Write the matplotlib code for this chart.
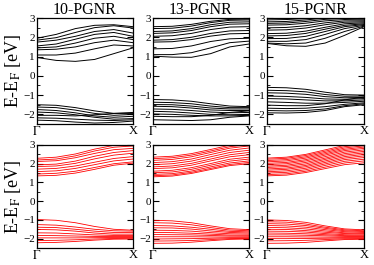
import matplotlib
matplotlib.use('Agg')
import matplotlib.pyplot as plt
from matplotlib.ticker import MultipleLocator

plt.rcParams['font.family'] = ['Liberation Serif', 'DejaVu Serif']
plt.rcParams['mathtext.fontset'] = 'stix'

# k-points along Gamma -> X (fraction of the path)
kpts = [0.0, 0.2, 0.4, 0.6, 0.8, 1.0]

titles = ['10-PGNR', '13-PGNR', '15-PGNR']
xtick_labels = [r'$\Gamma$', 'X']

# top row (black)
bands_10_a = [
    [1.95, 2.15, 2.45, 2.62, 2.65, 2.55],
    [1.85, 1.98, 2.25, 2.50, 2.60, 2.48],
    [1.75, 1.85, 2.05, 2.30, 2.40, 2.22],
    [1.55, 1.65, 1.90, 2.15, 2.25, 2.05],
    [1.45, 1.50, 1.70, 1.95, 2.05, 1.88],
    [1.35, 1.38, 1.50, 1.72, 1.85, 1.72],
    [1.08, 1.08, 1.18, 1.40, 1.60, 1.55],
    [0.95, 0.80, 0.75, 0.85, 1.15, 1.45],
    [-1.50, -1.53, -1.65, -1.82, -1.95, -1.95],
    [-1.62, -1.65, -1.78, -1.95, -2.05, -2.00],
    [-1.75, -1.80, -1.92, -2.08, -2.15, -2.10],
    [-1.88, -1.92, -2.02, -2.15, -2.25, -2.22],
    [-2.05, -2.05, -2.08, -2.02, -1.95, -1.90],
    [-2.18, -2.20, -2.25, -2.30, -2.32, -2.28],
    [-2.30, -2.33, -2.40, -2.45, -2.42, -2.35],
]

bands_13_a = [
    [2.55, 2.57, 2.67, 2.83, 2.93, 2.95],
    [2.45, 2.47, 2.58, 2.76, 2.88, 2.90],
    [2.30, 2.33, 2.45, 2.65, 2.78, 2.80],
    [2.20, 2.23, 2.35, 2.55, 2.68, 2.70],
    [2.05, 2.08, 2.20, 2.40, 2.53, 2.55],
    [1.85, 1.88, 2.00, 2.20, 2.33, 2.35],
    [1.75, 1.77, 1.88, 2.06, 2.18, 2.20],
    [1.40, 1.42, 1.55, 1.78, 1.92, 1.95],
    [1.10, 1.10, 1.20, 1.45, 1.72, 1.80],
    [1.02, 0.97, 0.96, 1.15, 1.50, 1.65],
    [-1.23, -1.25, -1.32, -1.45, -1.57, -1.60],
    [-1.37, -1.39, -1.45, -1.57, -1.65, -1.65],
    [-1.49, -1.50, -1.57, -1.67, -1.72, -1.72],
    [-1.58, -1.60, -1.67, -1.77, -1.80, -1.80],
    [-1.72, -1.74, -1.80, -1.88, -1.92, -1.90],
    [-1.84, -1.87, -1.93, -2.00, -2.02, -2.00],
    [-1.98, -2.00, -2.05, -2.08, -2.08, -2.05],
    [-2.10, -2.12, -2.12, -2.05, -1.90, -1.82],
    [-2.28, -2.30, -2.32, -2.28, -2.15, -2.08],
]

bands_15_a = [
    [2.90, 2.92, 2.97, 3.05, 3.10, 3.10],
    [2.80, 2.82, 2.90, 3.00, 3.05, 3.00],
    [2.72, 2.74, 2.82, 2.93, 2.98, 2.95],
    [2.63, 2.65, 2.73, 2.85, 2.92, 2.90],
    [2.49, 2.51, 2.60, 2.75, 2.85, 2.85],
    [2.37, 2.39, 2.48, 2.65, 2.78, 2.80],
    [2.19, 2.21, 2.32, 2.52, 2.70, 2.75],
    [2.07, 2.09, 2.20, 2.42, 2.62, 2.70],
    [1.93, 1.94, 2.05, 2.30, 2.55, 2.66],
    [1.79, 1.79, 1.88, 2.15, 2.45, 2.62],
    [1.70, 1.66, 1.70, 1.95, 2.30, 2.58],
    [1.68, 1.56, 1.53, 1.70, 2.10, 2.55],
    [-0.60, -0.62, -0.70, -0.85, -0.98, -1.00],
    [-0.75, -0.77, -0.83, -0.97, -1.06, -1.05],
    [-0.88, -0.90, -0.96, -1.08, -1.14, -1.12],
    [-1.05, -1.07, -1.12, -1.20, -1.22, -1.18],
    [-1.18, -1.20, -1.25, -1.30, -1.30, -1.25],
    [-1.35, -1.38, -1.42, -1.42, -1.38, -1.32],
    [-1.52, -1.55, -1.55, -1.45, -1.25, -1.10],
    [-1.68, -1.70, -1.68, -1.60, -1.48, -1.40],
    [-1.80, -1.82, -1.80, -1.72, -1.55, -1.45],
    [-1.92, -1.93, -1.90, -1.80, -1.60, -1.50],
]

# bottom row (red)
bands_10_b = [
    [2.29, 2.35, 2.52, 2.78, 2.98, 3.05],
    [2.20, 2.25, 2.42, 2.68, 2.88, 2.95],
    [2.12, 2.16, 2.32, 2.55, 2.75, 2.82],
    [1.94, 1.98, 2.14, 2.40, 2.60, 2.70],
    [1.85, 1.88, 2.02, 2.26, 2.46, 2.56],
    [1.71, 1.75, 1.88, 2.08, 2.28, 2.38],
    [1.58, 1.62, 1.75, 1.95, 2.15, 2.25],
    [1.45, 1.49, 1.60, 1.80, 2.00, 2.10],
    [1.35, 1.38, 1.50, 1.70, 1.92, 2.03],
    [-0.98, -1.02, -1.15, -1.35, -1.50, -1.55],
    [-1.25, -1.28, -1.38, -1.50, -1.58, -1.60],
    [-1.39, -1.41, -1.50, -1.60, -1.67, -1.68],
    [-1.51, -1.53, -1.60, -1.70, -1.76, -1.76],
    [-1.69, -1.70, -1.75, -1.80, -1.83, -1.83],
    [-1.83, -1.84, -1.86, -1.88, -1.89, -1.89],
    [-1.96, -1.96, -1.96, -1.95, -1.94, -1.94],
    [-2.10, -2.09, -2.06, -2.02, -1.99, -1.98],
    [-2.22, -2.20, -2.15, -2.08, -2.03, -2.02],
]

bands_13_b = [
    [2.35, 2.40, 2.54, 2.76, 2.99, 3.10],
    [2.27, 2.32, 2.46, 2.68, 2.91, 3.02],
    [2.18, 2.23, 2.37, 2.60, 2.83, 2.95],
    [2.06, 2.11, 2.25, 2.49, 2.72, 2.84],
    [1.95, 2.00, 2.14, 2.37, 2.60, 2.72],
    [1.83, 1.88, 2.02, 2.25, 2.48, 2.60],
    [1.74, 1.78, 1.92, 2.15, 2.37, 2.48],
    [1.60, 1.65, 1.79, 2.01, 2.24, 2.35],
    [1.52, 1.56, 1.70, 1.92, 2.14, 2.25],
    [1.43, 1.47, 1.61, 1.83, 2.04, 2.15],
    [1.36, 1.40, 1.54, 1.75, 1.96, 2.07],
    [1.30, 1.34, 1.48, 1.69, 1.90, 2.00],
    [-1.02, -1.05, -1.15, -1.32, -1.47, -1.52],
    [-1.15, -1.17, -1.26, -1.41, -1.54, -1.58],
    [-1.30, -1.32, -1.39, -1.50, -1.61, -1.64],
    [-1.42, -1.43, -1.49, -1.59, -1.67, -1.70],
    [-1.55, -1.56, -1.60, -1.68, -1.74, -1.76],
    [-1.67, -1.68, -1.71, -1.76, -1.81, -1.82],
    [-1.78, -1.79, -1.80, -1.83, -1.86, -1.87],
    [-1.90, -1.90, -1.90, -1.91, -1.92, -1.92],
    [-2.02, -2.01, -2.00, -1.98, -1.96, -1.96],
    [-2.13, -2.12, -2.10, -2.05, -2.00, -1.99],
    [-2.25, -2.24, -2.19, -2.11, -2.04, -2.02],
]

bands_15_b = [
    [2.30, 2.35, 2.50, 2.74, 2.98, 3.10],
    [2.24, 2.29, 2.44, 2.67, 2.91, 3.03],
    [2.17, 2.22, 2.37, 2.60, 2.84, 2.96],
    [2.10, 2.15, 2.30, 2.53, 2.77, 2.89],
    [2.02, 2.07, 2.22, 2.46, 2.70, 2.82],
    [1.95, 2.00, 2.15, 2.38, 2.62, 2.74],
    [1.87, 1.92, 2.07, 2.30, 2.54, 2.66],
    [1.80, 1.85, 1.99, 2.23, 2.46, 2.58],
    [1.72, 1.77, 1.91, 2.15, 2.38, 2.50],
    [1.65, 1.70, 1.84, 2.07, 2.30, 2.42],
    [1.57, 1.62, 1.76, 1.99, 2.22, 2.33],
    [1.50, 1.54, 1.68, 1.91, 2.13, 2.24],
    [1.42, 1.46, 1.60, 1.82, 2.04, 2.15],
    [1.35, 1.39, 1.53, 1.74, 1.95, 2.05],
    [-1.00, -1.03, -1.13, -1.32, -1.48, -1.53],
    [-1.10, -1.12, -1.22, -1.39, -1.53, -1.58],
    [-1.20, -1.22, -1.30, -1.45, -1.58, -1.62],
    [-1.30, -1.32, -1.39, -1.52, -1.63, -1.67],
    [-1.40, -1.42, -1.48, -1.59, -1.69, -1.72],
    [-1.50, -1.51, -1.57, -1.66, -1.73, -1.76],
    [-1.60, -1.61, -1.65, -1.73, -1.79, -1.81],
    [-1.70, -1.71, -1.74, -1.79, -1.84, -1.85],
    [-1.80, -1.80, -1.82, -1.85, -1.88, -1.89],
    [-1.90, -1.90, -1.91, -1.92, -1.93, -1.93],
    [-2.00, -2.00, -1.99, -1.98, -1.97, -1.97],
    [-2.12, -2.11, -2.09, -2.05, -2.01, -2.00],
    [-2.25, -2.24, -2.20, -2.12, -2.05, -2.03],
]

top_row = [bands_10_a, bands_13_a, bands_15_a]
bottom_row = [bands_10_b, bands_13_b, bands_15_b]

W, H = 374, 265
fig = plt.figure(figsize=(W / 100, H / 100), dpi=100)

lefts = [37, 153, 267]
widths = [96, 96, 97]
rows = [(18, 124, top_row, 'black', 0.7), (145, 248, bottom_row, 'red', 0.6)]

for r, (ytop, ybot, row, col, lw) in enumerate(rows):
    for c in range(3):
        ax = fig.add_axes([lefts[c] / W, 1 - ybot / H, widths[c] / W, (ybot - ytop) / H])
        for band in row[c]:
            ax.plot(kpts, band, color=col, lw=lw)
        ax.set_xlim(0, 1)
        ax.set_ylim(-2.5, 3)
        ax.yaxis.set_major_locator(MultipleLocator(1))
        ax.yaxis.set_minor_locator(MultipleLocator(0.5))
        ax.tick_params(axis='y', which='both', direction='in', left=True, right=True,
                       labelsize=8, pad=1.5)
        ax.tick_params(axis='y', which='major', length=4, width=0.8)
        ax.tick_params(axis='y', which='minor', length=2, width=0.6)
        ax.set_xticks([0, 1])
        ax.set_xticklabels(xtick_labels)
        ax.tick_params(axis='x', length=0, labelsize=9, pad=1)
        for s in ax.spines.values():
            s.set_linewidth(0.9)
        if r == 0:
            ax.set_title(titles[c], fontsize=11.5, pad=2)
        if c == 0:
            ax.set_ylabel(r'E-E$_\mathrm{F}$ [eV]', fontsize=13, labelpad=0)

fig.savefig('out.png', dpi=100)
